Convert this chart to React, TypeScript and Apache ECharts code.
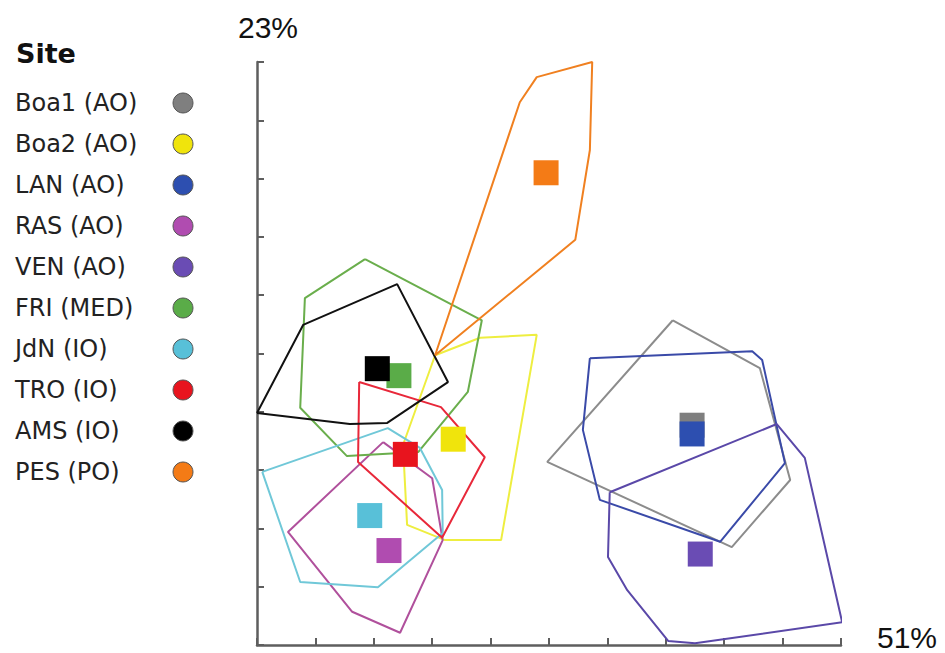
import React, { useEffect, useRef } from "react";
import * as echarts from "echarts";

const sites = [
  "Boa1 (AO)", "Boa2 (AO)", "LAN (AO)", "RAS (AO)", "VEN (AO)",
  "FRI (MED)", "JdN (IO)", "TRO (IO)", "AMS (IO)", "PES (PO)",
];
const markerColors = [
  "#7f7f7f", "#f0e40c", "#2d4fb0", "#b04cb0", "#6a4cb4",
  "#5aac48", "#58c0d8", "#e8141e", "#000000", "#f47b16",
];
const hullColors = [
  "#8c8c8c", "#eeee40", "#3a4aa8", "#b0509c", "#5a48a8",
  "#6aae4c", "#70c8d8", "#e8283a", "#111111", "#f08020",
];
// centroids (axis units, 0-10 on both axes)
const centroids: number[][] = [
  [7.45, 3.77], [3.36, 3.53], [7.45, 3.62], [2.26, 1.62], [7.59, 1.56],
  [2.43, 4.62], [1.93, 2.22], [2.54, 3.27], [2.06, 4.74], [4.95, 8.1],
];
// convex hull vertices
const hullBoa1 = [[7.12, 5.57], [8.61, 4.75], [9.13, 2.83], [8.13, 1.68], [4.97, 3.14]];
const hullBoa2 = [[2.5, 3.43], [3.05, 4.97], [3.82, 5.27], [4.79, 5.32], [4.18, 1.8], [3.22, 1.8], [2.57, 2.06]];
const hullLAN = [[5.7, 4.92], [8.48, 5.04], [8.65, 4.89], [9.04, 3.12], [7.93, 1.77], [5.87, 2.49], [5.58, 3.69]];
const hullRAS = [[2.16, 3.48], [3.0, 2.86], [3.18, 1.8], [2.45, 0.21], [1.63, 0.57], [0.53, 1.94]];
const hullVEN = [[6.04, 2.62], [8.9, 3.79], [9.38, 3.21], [10.02, 0.39], [7.5, 0.03], [7.04, 0.07], [6.34, 0.94], [6.01, 1.51]];
const hullFRI = [[1.85, 6.62], [3.85, 5.57], [3.61, 4.34], [2.76, 3.31], [1.54, 3.24], [0.74, 4.07], [0.82, 5.95]];
const hullJdN = [[0.09, 2.97], [2.24, 3.72], [2.79, 3.38], [3.17, 2.66], [3.18, 1.92], [2.07, 0.99], [0.74, 1.08]];
const hullTRO = [[1.75, 4.51], [3.15, 4.08], [3.9, 3.22], [3.17, 1.84], [1.73, 3.14]];
const hullAMS = [[0, 3.98], [0.79, 5.49], [2.4, 6.19], [3.27, 4.51], [2.23, 3.81], [1.59, 3.79]];
const hullPES = [[3.05, 4.97], [4.5, 9.31], [4.79, 9.74], [5.74, 10.0], [5.7, 8.49], [5.45, 6.95]];
const hulls = [hullBoa1, hullBoa2, hullLAN, hullRAS, hullVEN, hullFRI, hullJdN, hullTRO, hullAMS, hullPES];

const yRangeLabel = "23%";
const xRangeLabel = "51%";

export default function App() {
  const ref = useRef<HTMLDivElement>(null);
  useEffect(() => {
    document.body.style.margin = "0";
    const chart = echarts.init(ref.current!, null, { renderer: "svg" });
    const axisColor = "#5e5e5e";
    const hullSeries = hulls.map((h, i) => ({
      type: "line",
      name: sites[i] + " hull",
      data: [...h, h[0]],
      symbol: "none",
      z: 2,
      lineStyle: { color: hullColors[i], width: 2 },
      silent: true,
    }));
    const pointSeries = centroids.map((c, i) => ({
      type: "scatter",
      name: sites[i],
      data: [c],
      symbol: "rect",
      symbolSize: 25,
      z: 3,
      itemStyle: { color: markerColors[i], opacity: 1 },
    }));
    chart.setOption({
      animation: false,
      title: {
        text: "Site",
        left: 16,
        top: 40,
        padding: 0,
        textStyle: { fontFamily: "DejaVu Sans", fontWeight: "bold", fontSize: 27, color: "#111" },
      },
      legend: {
        orient: "vertical",
        left: 15,
        top: 91,
        padding: 0,
        align: "right",
        icon: "circle",
        itemWidth: 20,
        itemHeight: 20,
        itemGap: 17,
        data: sites,
        selectedMode: false,
        itemStyle: { borderColor: "#555", borderWidth: 1, opacity: 1 },
        formatter: "{n|{name}}",
        textStyle: {
          color: "#222",
          rich: {
            n: { width: 153, align: "left", fontSize: 24, lineHeight: 20, fontFamily: "DejaVu Sans", color: "#222" },
          },
        },
      },
      grid: { left: 257, right: 104, top: 62, bottom: 8, outerBoundsMode: "none", containLabel: false },
      xAxis: {
        type: "value",
        min: 0,
        max: 10,
        interval: 1,
        name: xRangeLabel,
        nameLocation: "end",
        nameGap: 36,
        nameTextStyle: {
          fontSize: 30, color: "#111", fontFamily: "Liberation Sans",
          lineHeight: 16, verticalAlign: "bottom",
        },
        axisLine: { show: true, lineStyle: { color: axisColor, width: 2.5 } },
        axisTick: { show: true, inside: true, length: 7, lineStyle: { color: axisColor, width: 2 } },
        axisLabel: { show: false },
        splitLine: { show: false },
      },
      yAxis: {
        type: "value",
        min: 0,
        max: 10,
        interval: 1,
        name: yRangeLabel,
        nameLocation: "end",
        nameGap: 20,
        nameTextStyle: {
          fontSize: 30, color: "#111", fontFamily: "Liberation Sans",
          lineHeight: 30, align: "center", padding: [0, 0, 0, 22],
        },
        axisLine: { show: true, lineStyle: { color: axisColor, width: 2.5 } },
        axisTick: { show: true, inside: true, length: 7, lineStyle: { color: axisColor, width: 2 } },
        axisLabel: { show: false },
        splitLine: { show: false },
      },
      series: [...hullSeries, ...pointSeries],
    });
    return () => chart.dispose();
  }, []);
  return <div ref={ref} style={{ width: 945, height: 653 }} />;
}
